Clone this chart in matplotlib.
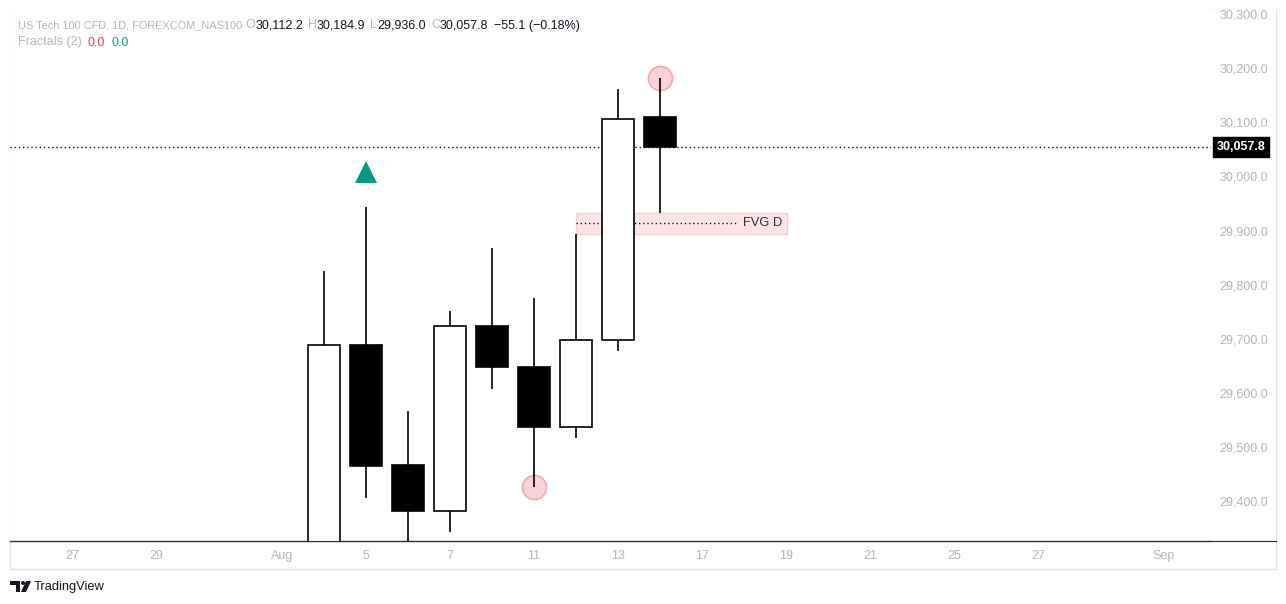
import matplotlib
matplotlib.use("Agg")
import matplotlib.pyplot as plt
from matplotlib.patches import Rectangle, Polygon, Circle
from matplotlib.transforms import offset_copy

plt.rcParams['font.family'] = ['Liberation Sans', 'DejaVu Sans']

W, H = 1286, 604

# daily candles, Aug 4 .. Aug 14 (bar index 0..8)
dates = ['Aug 4', 'Aug 5', 'Aug 6', 'Aug 7', 'Aug 8', 'Aug 11', 'Aug 12', 'Aug 13', 'Aug 14']
opens = [29250.0, 29690.0, 29468.0, 29384.0, 29726.0, 29650.0, 29538.0, 29700.0, 30112.2]
highs = [29828.0, 29946.0, 29568.0, 29754.0, 29870.0, 29778.0, 29896.0, 30165.0, 30184.9]
lows = [29200.0, 29408.0, 29300.0, 29345.0, 29609.0, 29428.0, 29519.0, 29680.0, 29936.0]
closes = [29690.0, 29466.0, 29384.0, 29726.0, 29650.0, 29538.0, 29700.0, 30110.0, 30057.8]

# x axis labels (bar index -> label)
tick_idx = [-6, -4, -1, 1, 3, 5, 7, 9, 11, 13, 15, 17, 20]
tick_lbl = ['27', '29', 'Aug', '5', '7', '11', '13', '17', '19', '21', '25', '27', 'Sep']

price_ticks = [30300, 30200, 30100, 30000, 29900, 29800, 29700, 29600, 29500, 29400]
last_price = 30057.8
change, change_pct = -55.1, -0.18

fractal_up = [1]        # bars with an up fractal
swing_high = [8]        # circled highs
swing_low = [5]         # circled lows
fvg_bars = (6, 8)       # gap between high of bar 6 and low of bar 8
fvg_end = 11.02

GRAY = '#b2b5be'
DARK = '#131722'

fig = plt.figure(figsize=(W / 100, H / 100), dpi=100)
fig.patch.set_facecolor('white')

ax = fig.add_axes([10 / W, (H - 541) / H, 1201 / W, 531 / H])
ax.set_xlim(-7.476, 21.12)
ax.set_ylim(29327.8, 30311.1)
for s in ['top', 'left', 'right']:
    ax.spines[s].set_visible(False)
ax.spines['bottom'].set_color('#2a2e39')
ax.spines['bottom'].set_linewidth(1)
ax.set_yticks([])
ax.set_xticks(tick_idx)
ax.set_xticklabels(tick_lbl)
ax.tick_params(axis='x', length=0, pad=6.5, labelcolor=GRAY, labelsize=9)

# FVG zone
lo = highs[fvg_bars[0]]
hi = lows[fvg_bars[1]]
ax.add_patch(Rectangle((fvg_bars[0], lo), fvg_end - fvg_bars[0], hi - lo,
                       fc='#fde4e7', ec='#f9cdd3', lw=1, zorder=1))
ax.plot([fvg_bars[0], 9.8], [(lo + hi) / 2] * 2, color=DARK, lw=1, ls=(0, (1, 2)), zorder=1.5)
ax.text(9.98, (lo + hi) / 2, 'FVG D', ha='left', va='center', color='#2a2e39', fontsize=9.3, zorder=2)

# last price line
ax.axhline(last_price, color=DARK, lw=1, ls=(0, (1, 2)), zorder=1.5)

# circles behind candles
for i in swing_high:
    ax.plot(i, highs[i], 'o', ms=17.3, mfc='#fad3d8', mec='#f6a6b0', mew=1.2, zorder=1.8)
for i in swing_low:
    ax.plot(i, lows[i], 'o', ms=17.3, mfc='#fad3d8', mec='#f6a6b0', mew=1.2, zorder=1.8)

# candles
for i in range(len(opens)):
    o, h, l, c = opens[i], highs[i], lows[i], closes[i]
    ax.vlines(i, l, h, color='black', lw=1.2, zorder=2)
    ax.add_patch(Rectangle((i - 0.38, min(o, c)), 0.76, abs(c - o),
                           fc='white' if c > o else 'black', ec='black', lw=1.2, zorder=3))

# fractal triangles
tri_tr = offset_copy(ax.transData, fig=fig, y=25, units='points')
for i in fractal_up:
    ax.plot(i, highs[i], marker='^', ms=16.5, color='#089981', mew=0, transform=tri_tr, zorder=4)

# price scale
ax2 = fig.add_axes([1212 / W, (H - 541) / H, 64 / W, 531 / H])
ax2.set_ylim(ax.get_ylim())
ax2.set_xlim(0, 1)
for s in ['top', 'left', 'right']:
    ax2.spines[s].set_visible(False)
ax2.spines['bottom'].set_color('#2a2e39')
ax2.set_xticks([])
ax2.set_yticks([])
for p in price_ticks:
    ax2.text(0.5, p, f'{p:,.1f}', ha='center', va='center', color=GRAY, fontsize=9)
ax2.text(0.45, last_price, f'{last_price:,.1f}', ha='center', va='center', color='white',
         fontsize=9, fontweight='bold',
         bbox=dict(boxstyle='square,pad=0.3', fc='black', ec='black'))

# overlay in pixel coordinates for header, frame and logo
ov = fig.add_axes([0, 0, 1, 1], zorder=-1)
ov.set_xlim(0, W)
ov.set_ylim(H, 0)
ov.axis('off')
ov.add_patch(Rectangle((10, 9.5), 1266, 559, fill=False, ec='#e0e3eb', lw=1))

top = fig.add_axes([0, 0, 1, 1], zorder=5)
top.set_xlim(0, W)
top.set_ylim(H, 0)
top.axis('off')
top.patch.set_alpha(0)

renderer = fig.canvas.get_renderer()


def chain(parts, x, y):
    # texts on one baseline, placed left to right (gaps in pixels)
    for txt, col, gap, size in parts:
        x += gap
        t = top.text(x, y, txt, color=col, fontsize=size, va='baseline', ha='left')
        x += t.get_window_extent(renderer).width


chain([('US Tech 100 CFD, 1D, FOREXCOM_NAS100', GRAY, 0, 7.9),
       ('O', GRAY, 3, 9), (f'{opens[-1]:,.1f}', DARK, 0, 9),
       ('H', GRAY, 5, 9), (f'{highs[-1]:,.1f}', DARK, 0, 9),
       ('L', GRAY, 5, 9), (f'{lows[-1]:,.1f}', DARK, 0, 9),
       ('C', GRAY, 5, 9), (f'{closes[-1]:,.1f}', DARK, 0, 9),
       (f'{change:,.1f} ({change_pct:.2f}%)'.replace('-', '\u2212'), DARK, 6, 9)], 18, 28.5)
chain([('Fractals (2)', GRAY, 0, 9), ('0.0', '#f23645', 6, 9), ('0.0', '#089981', 6, 9)], 18, 45.5)

# TradingView logo
top.add_patch(Polygon([(10, 581), (20, 581), (20, 592), (15.5, 592), (15.5, 585), (10, 585)],
                      closed=True, fc=DARK, ec='none'))
top.add_patch(Circle((23, 583), 2, fc=DARK, ec='none'))
top.add_patch(Polygon([(26, 581), (31, 581), (26, 592), (21, 592)], closed=True, fc=DARK, ec='none'))
top.text(34, 587, 'TradingView', color=DARK, fontsize=9.3, va='center', ha='left')

fig.savefig('out.png', dpi=100)
